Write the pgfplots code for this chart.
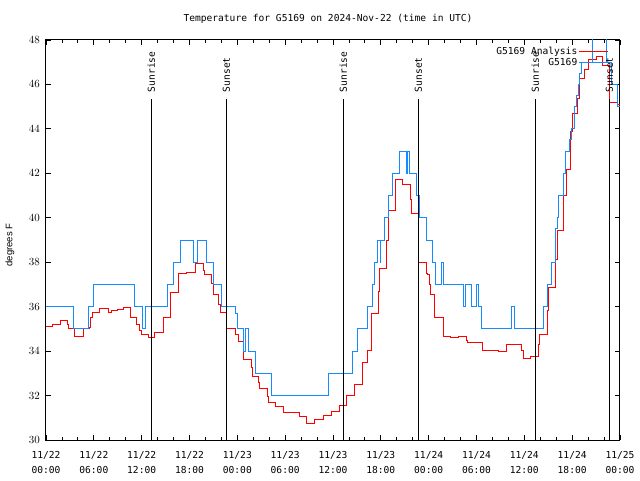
\documentclass[border=0pt]{standalone}
\usepackage{fontspec}
\usepackage{pgfplots}
\pgfplotsset{compat=1.18}
\newfontfamily\monofont{DejaVu Sans Mono}
\newfontfamily\sansfont{Liberation Sans}
\definecolor{obsblue}{RGB}{20,140,255}
\newcommand{\mymf}{\monofont\fontsize{9.6}{15}\selectfont}
\newcommand{\mysf}{\sansfont\fontsize{10.5}{12}\selectfont}
\begin{document}
\begin{tikzpicture}
\path[use as bounding box] (-46pt,-40pt) rectangle (594pt,440pt);
\begin{axis}[
  at={(0pt,0pt)}, anchor=south west,
  scale only axis, width=574pt, height=400pt,
  xmin=0, xmax=72, ymin=30, ymax=48,
  xtick={0,6,...,72},
  xticklabels={{11/22\\00:00},{11/22\\06:00},{11/22\\12:00},{11/22\\18:00},{11/23\\00:00},{11/23\\06:00},{11/23\\12:00},{11/23\\18:00},{11/24\\00:00},{11/24\\06:00},{11/24\\12:00},{11/24\\18:00},{11/25\\00:00}},
  minor x tick num=2,
  ytick={30,32,...,48},
  tick align=inside,
  major tick length=5pt, minor tick length=3pt,
  tick style={black, line width=0.8pt},
  axis line style={black, line width=1pt},
  xticklabel style={font=\mymf, align=center, anchor=north, inner sep=0pt, yshift=-11pt},
  yticklabel style={font=\mysf, anchor=east, inner sep=0pt, xshift=-6pt},
  legend style={at={(axis description cs:1,1)}, anchor=north east, draw=none, fill=none,
    xshift=-8pt, yshift=-3pt, font=\monofont\fontsize{9.6}{11}\selectfont, row sep=0pt,
    nodes={inner sep=1.5pt}},
  legend cell align=right, legend plot pos=right,
  legend image code/.code={\draw[#1] (0pt,0pt) -- (29pt,0pt);},
]
% Analysis (red)
\addplot[red, line width=1pt, const plot] coordinates {
(0,35.13) (0.84,35.18) (1.76,35.36) (2.67,35.18) (2.80,35.03) (3.60,34.68) (4.68,35.03)
(5.43,35.08) (5.60,35.52) (5.86,35.73) (6.77,35.93) (7.81,35.73) (8.24,35.82) (8.94,35.88)
(9.70,35.97) (10.66,35.50) (11.38,35.20) (11.70,34.95) (12.00,34.75) (12.83,34.60)
(13.67,34.85) (14.80,35.52) (15.65,36.65) (16.60,37.48) (17.65,37.56) (18.75,37.95)
(19.73,37.65) (19.94,37.45) (20.70,37.05) (20.99,36.57) (21.70,36.10) (21.89,35.72)
(22.62,35.03) (23.80,34.73) (24.12,34.42) (24.75,33.63) (25.80,33.27) (25.92,32.85)
(26.63,32.58) (26.84,32.30) (27.76,31.98) (27.89,31.71) (28.81,31.50) (29.77,31.25)
(31.77,31.08) (32.70,30.75) (33.65,30.93) (34.78,31.11) (35.84,31.30) (36.79,31.56)
(37.72,32.01) (38.67,32.48) (39.75,33.50) (40.30,34.05) (40.78,35.70) (41.77,36.68)
(41.85,37.72) (42.73,39.00) (42.90,40.32) (43.86,41.73) (44.74,41.52) (45.75,40.83)
(45.88,40.20) (46.70,37.98) (47.75,37.50) (47.88,37.43) (48.05,37.02) (48.20,36.53)
(48.74,35.52) (49.80,34.68) (50.74,34.63) (51.70,34.68) (52.75,34.50) (52.90,34.38)
(54.80,34.02) (55.80,34.04) (56.76,33.97) (57.80,34.28) (59.69,34.04) (59.85,33.67)
(60.72,33.78) (61.77,34.32) (61.92,34.77) (62.86,35.85) (62.98,36.87) (63.88,38.13)
(64.13,39.42) (64.88,41.00) (65.30,42.18) (65.80,43.87) (66.06,44.70) (66.64,45.38)
(66.98,46.25) (67.60,46.68) (68.10,47.13) (69.00,47.25) (69.83,46.85) (70.66,45.18)
(71.70,45.10) (72,45.10)
};
\addlegendentry{G5169 Analysis}
% Observations (blue)
\addplot[obsblue, line width=1pt, const plot] coordinates {
(0,36) (3.47,35) (5.36,36) (6.02,37) (11.08,36) (12.08,35) (12.46,36) (15.27,37)
(15.97,38) (16.81,39) (18.48,38) (18.98,39) (20.07,38) (20.99,37) (22.04,36)
(23.80,35.7) (24.05,35) (24.75,34) (25.00,35) (25.43,34) (26.30,33) (28.31,32)
(35.41,33) (38.42,34) (39.10,35) (40.35,36) (40.98,37) (41.18,38) (41.56,39)
(41.90,38) (42.02,39) (42.44,40) (42.94,41) (43.49,42) (44.32,43) (45.25,42)
(45.40,43) (45.55,42) (46.42,41) (46.83,40) (47.75,39) (48.50,38) (48.92,37)
(49.64,38) (49.84,37) (52.35,36) (52.68,37) (53.40,36) (54.02,37) (54.22,36)
(54.65,35) (58.42,36) (58.74,35) (62.38,36) (62.91,37) (63.43,38) (63.85,39)
(63.97,39.5) (64.14,40) (64.26,41) (64.89,42) (65.22,43) (65.64,43.5) (65.86,44)
(66.27,45) (66.57,45.5) (66.77,46) (66.98,46.5) (67.20,47) (68.57,50) (70.25,47)
(70.96,46) (71.71,45) (72,45)
};
\addlegendentry{G5169}
% Sunrise / sunset lines
\addplot[black, line width=1pt, forget plot] coordinates {(13.21,30) (13.21,45.35)};
\addplot[black, line width=1pt, forget plot] coordinates {(22.62,30) (22.62,45.35)};
\addplot[black, line width=1pt, forget plot] coordinates {(37.29,30) (37.29,45.35)};
\addplot[black, line width=1pt, forget plot] coordinates {(46.70,30) (46.70,45.35)};
\addplot[black, line width=1pt, forget plot] coordinates {(61.38,30) (61.38,45.35)};
\addplot[black, line width=1pt, forget plot] coordinates {(70.66,30) (70.66,45.35)};
\node[rotate=90, anchor=west, inner sep=0pt, font=\mymf] at (axis cs:13.21,45.65) {Sunrise};
\node[rotate=90, anchor=west, inner sep=0pt, font=\mymf] at (axis cs:22.62,45.65) {Sunset};
\node[rotate=90, anchor=west, inner sep=0pt, font=\mymf] at (axis cs:37.29,45.65) {Sunrise};
\node[rotate=90, anchor=west, inner sep=0pt, font=\mymf] at (axis cs:46.70,45.65) {Sunset};
\node[rotate=90, anchor=west, inner sep=0pt, font=\mymf] at (axis cs:61.38,45.65) {Sunrise};
\node[rotate=90, anchor=west, inner sep=0pt, font=\mymf] at (axis cs:70.66,45.65) {Sunset};
\end{axis}
\node[font=\mymf] at (282pt,421pt) {Temperature for G5169 on 2024-Nov-22 (time in UTC)};
\node[font=\sansfont\fontsize{9.5}{11}\selectfont, rotate=90] at (-36pt,195pt) {degrees F};
\end{tikzpicture}
\end{document}
